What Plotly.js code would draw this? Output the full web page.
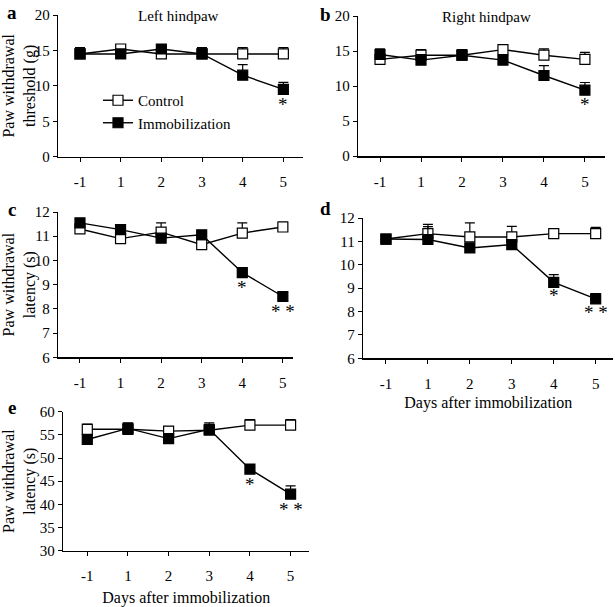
<!DOCTYPE html>
<html>
<head>
<meta charset="utf-8">
<script src="https://cdn.plot.ly/plotly-3.0.1.min.js"></script>
<style>
  html, body { margin: 0; padding: 0; background: #fff; }
  #chart { width: 615px; height: 607px; }
</style>
</head>
<body>
<div id="chart"></div>
<script>
// Days after immobilization (categorical axis)
var days = ['-1', '1', '2', '3', '4', '5'];

// a: Left hindpaw, paw withdrawal threshold (g)
var aControl = [14.5, 15.2, 14.5, 14.5, 14.5, 14.5];
var aControlErr = [0.9, 0.3, 0.3, 0.9, 0.9, 0.9];
var aImmob = [14.5, 14.5, 15.2, 14.5, 11.5, 9.5];
var aImmobErr = [0.9, 0.3, 0.3, 0.9, 1.5, 1.0];

// b: Right hindpaw, paw withdrawal threshold (g)
var bControl = [13.8, 14.4, 14.4, 15.2, 14.4, 13.8];
var bControlErr = [0.5, 0.8, 0.8, 0.3, 0.9, 1.0];
var bImmob = [14.5, 13.7, 14.4, 13.7, 11.5, 9.4];
var bImmobErr = [0.8, 0.8, 0.8, 0.6, 1.4, 1.1];

// c: Left hindpaw, paw withdrawal latency (s)
var cControl = [11.3, 10.9, 11.17, 10.65, 11.13, 11.38];
var cControlErr = [0.1, 0.1, 0.38, 0.1, 0.42, 0.2];
var cImmob = [11.55, 11.27, 10.92, 11.06, 9.5, 8.51];
var cImmobErr = [0.1, 0.1, 0.1, 0.1, 0.1, 0.1];

// d: Right hindpaw, paw withdrawal latency (s)
var dControl = [11.1, 11.33, 11.19, 11.19, 11.33, 11.33];
var dControlErr = [0.1, 0.4, 0.6, 0.45, 0.15, 0.27];
var dImmob = [11.1, 11.08, 10.72, 10.86, 9.25, 8.54];
var dImmobErr = [0.1, 0.55, 0.1, 0.1, 0.33, 0.23];

// e: paw withdrawal latency (s)
var eControl = [56.2, 56.2, 55.8, 56.0, 57.1, 57.1];
var eControlErr = [1.1, 1.0, 1.0, 1.0, 1.2, 1.2];
var eImmob = [54.0, 56.4, 54.2, 56.2, 47.6, 42.2];
var eImmobErr = [0.8, 1.2, 0.8, 1.4, 1.0, 1.8];

// significance marks
var aStarDays = ['5'], aStarY = [7.3], aStarText = ['*'];
var bStarDays = ['5'], bStarY = [7.3], bStarText = ['*'];
var cStarDays = ['4', '5'], cStarY = [8.88, 7.9], cStarText = ['*', '* *'];
var dStarDays = ['4', '5'], dStarY = [8.68, 7.95], dStarText = ['*', '* *'];
var eStarDays = ['4', '5'], eStarY = [44.2, 38.8], eStarText = ['*', '* *'];

var FONT = "'Liberation Serif', 'Times New Roman', serif";
var W = 615, H = 607;

function zeros(n) {
    var z = [];
    for (var i = 0; i < n; i++) z.push(0);
    return z;
}

function makeTrace(n, y, err, filled, showLegend, name) {
    return {
        x: days,
        y: y,
        xaxis: 'x' + (n === 1 ? '' : n),
        yaxis: 'y' + (n === 1 ? '' : n),
        type: 'scatter',
        mode: 'lines+markers',
        name: name,
        showlegend: showLegend,
        line: { color: '#000', width: 1.4 },
        marker: {
            symbol: 'square',
            size: 10,
            color: filled ? '#000' : '#fff',
            line: { color: '#000', width: 1.2 }
        },
        error_y: {
            type: 'data',
            symmetric: false,
            array: err,
            arrayminus: zeros(err.length),
            color: '#000',
            thickness: 1.2,
            width: 5
        },
        cliponaxis: false
    };
}

var traces = [
    makeTrace(1, aControl, aControlErr, false, true, 'Control'),
    makeTrace(1, aImmob, aImmobErr, true, true, 'Immobilization'),
    makeTrace(2, bControl, bControlErr, false, false, 'Control'),
    makeTrace(2, bImmob, bImmobErr, true, false, 'Immobilization'),
    makeTrace(3, cControl, cControlErr, false, false, 'Control'),
    makeTrace(3, cImmob, cImmobErr, true, false, 'Immobilization'),
    makeTrace(4, dControl, dControlErr, false, false, 'Control'),
    makeTrace(4, dImmob, dImmobErr, true, false, 'Immobilization'),
    makeTrace(5, eControl, eControlErr, false, false, 'Control'),
    makeTrace(5, eImmob, eImmobErr, true, false, 'Immobilization')
];

function xAxis(n, left, right, r0, r1, title, standoff) {
    var ax = {
        type: 'category',
        domain: [left / W, right / W],
        range: [r0, r1],
        anchor: 'y' + (n === 1 ? '' : n),
        showline: true,
        linecolor: '#000',
        linewidth: 1.5,
        ticks: 'outside',
        ticklen: 4,
        tickwidth: 1,
        tickcolor: '#000',
        ticklabelstandoff: 7,
        showgrid: false,
        zeroline: false,
        fixedrange: true,
        tickfont: { size: 15 }
    };
    if (title) ax.title = { text: title, font: { size: 16 }, standoff: standoff };
    return ax;
}

function yAxis(n, top, bottom, r0, r1, dtick, title) {
    var ax = {
        domain: [1 - bottom / H, 1 - top / H],
        range: [r0, r1],
        dtick: dtick,
        anchor: 'x' + (n === 1 ? '' : n),
        showline: true,
        linecolor: '#000',
        linewidth: 1.5,
        ticks: 'outside',
        ticklen: 4,
        tickwidth: 1,
        tickcolor: '#000',
        showgrid: false,
        zeroline: false,
        fixedrange: true,
        tickfont: { size: 15 }
    };
    if (title) ax.title = { text: title, font: { size: 16 }, standoff: 0 };
    return ax;
}

var annotations = [];
function addLabel(x, y, text, size, bold) {
    annotations.push({
        xref: 'paper', yref: 'paper',
        x: x / W, y: 1 - y / H,
        xanchor: 'center', yanchor: 'middle',
        text: bold ? '<b>' + text + '</b>' : text,
        showarrow: false,
        font: { size: size, color: '#000' }
    });
}
function addStars(n, xs, ys, texts) {
    for (var i = 0; i < xs.length; i++) {
        annotations.push({
            xref: 'x' + (n === 1 ? '' : n), yref: 'y' + (n === 1 ? '' : n),
            x: xs[i], y: ys[i],
            text: texts[i],
            showarrow: false,
            font: { size: 19, color: '#000' }
        });
    }
}

addLabel(12, 13, 'a', 19, true);
addLabel(326, 14, 'b', 19, true);
addLabel(12, 209, 'c', 19, true);
addLabel(326, 208, 'd', 19, true);
addLabel(12, 407, 'e', 19, true);
addLabel(178, 16, 'Left hindpaw', 15, false);
addLabel(486, 17, 'Right hindpaw', 15, false);

addStars(1, aStarDays, aStarY, aStarText);
addStars(2, bStarDays, bStarY, bStarText);
addStars(3, cStarDays, cStarY, cStarText);
addStars(4, dStarDays, dStarY, dStarText);
addStars(5, eStarDays, eStarY, eStarText);

var layout = {
    width: W,
    height: H,
    margin: { l: 0, r: 0, t: 0, b: 0 },
    paper_bgcolor: '#fff',
    plot_bgcolor: 'rgba(0,0,0,0)',
    font: { family: FONT, size: 15, color: '#000' },
    showlegend: true,
    legend: {
        x: 98 / W, y: 1 - 84 / H,
        xanchor: 'left', yanchor: 'top',
        bgcolor: 'rgba(0,0,0,0)',
        font: { size: 15, color: '#000' },
        tracegroupgap: 0
    },
    xaxis: xAxis(1, 58.3, 303.3, -0.534, 5.49),
    yaxis: yAxis(1, 15, 156.7, 0, 20, 5, 'Paw withdrawal<br>threshold (g)'),
    xaxis2: xAxis(2, 358.3, 605, -0.53, 5.49),
    yaxis2: yAxis(2, 16, 156, 0, 20, 5),
    xaxis3: xAxis(3, 58.3, 293, -0.534, 5.25),
    yaxis3: yAxis(3, 212, 357.3, 6, 12, 1, 'Paw withdrawal<br>latency (s)'),
    xaxis4: xAxis(4, 363.3, 613.3, -0.54, 5.42, 'Days after immobilization', 6),
    yaxis4: yAxis(4, 218, 358.3, 6, 12, 1),
    xaxis5: xAxis(5, 63.3, 309.3, -0.59, 5.46, 'Days after immobilization', 10),
    yaxis5: yAxis(5, 411.7, 550.7, 30, 60, 5, 'Paw withdrawal<br>latency (s)'),
    annotations: annotations
};

Plotly.newPlot('chart', traces, layout, { displayModeBar: false, staticPlot: true });
</script>
</body>
</html>
